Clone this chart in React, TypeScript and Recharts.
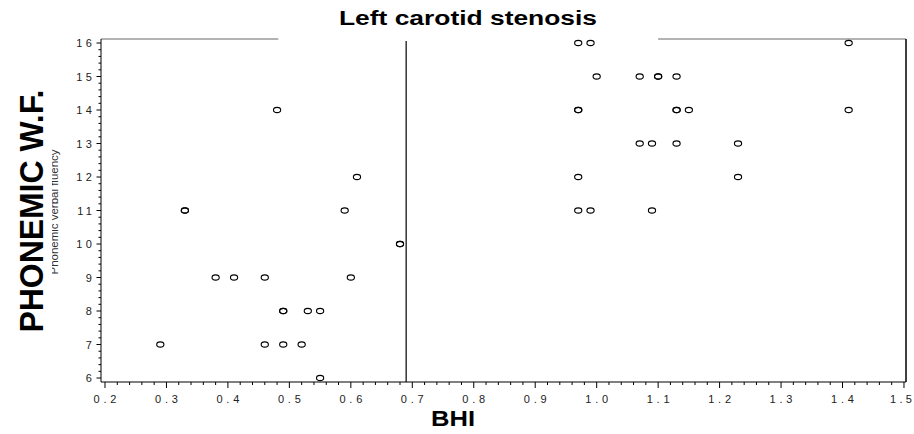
import React from 'react';
import { ScatterChart, Scatter, XAxis, YAxis, ReferenceLine } from 'recharts';

const title = 'Left carotid stenosis';
const xTitle = 'BHI';
const yTitle = 'PHONEMIC W.F.';
const ySubTitle = 'Phonemic verbal fluency';

// major tick values (labels are drawn from these)
const xMajor = [0.2, 0.3, 0.4, 0.5, 0.6, 0.7, 0.8, 0.9, 1.0, 1.1, 1.2, 1.3, 1.4, 1.5];
const yMajor = [6, 7, 8, 9, 10, 11, 12, 13, 14, 15, 16];

// one entry per subject: BHI and phonemic word fluency score
const bhi = [
  0.97, 0.99, 1.41,
  1.0, 1.07, 1.1, 1.1, 1.13,
  0.48, 0.97, 0.97, 1.13, 1.13, 1.15, 1.41,
  1.07, 1.09, 1.13, 1.23,
  0.61, 0.97, 1.23,
  0.33, 0.33, 0.59, 0.97, 0.99, 1.09,
  0.68, 0.68,
  0.38, 0.41, 0.46, 0.6,
  0.49, 0.49, 0.53, 0.55,
  0.29, 0.46, 0.49, 0.52,
  0.55,
];
const phonemic = [
  16, 16, 16,
  15, 15, 15, 15, 15,
  14, 14, 14, 14, 14, 14, 14,
  13, 13, 13, 13,
  12, 12, 12,
  11, 11, 11, 11, 11, 11,
  10, 10,
  9, 9, 9, 9,
  8, 8, 8, 8,
  7, 7, 7, 7,
  6,
];

const cutoff = 0.69;
const topLineGap = [0.482, 1.1];

const X_DOMAIN: [number, number] = [0.1935, 1.5033];
const Y_DOMAIN: [number, number] = [5.881, 16.12];

const points = bhi.map((v, i) => ({ bhi: v, pwf: phonemic[i] }));

// 4 minor ticks between every pair of majors
const withMinor = (majors: number[], n: number) =>
  majors.flatMap((m, i) =>
    i === majors.length - 1
      ? [m]
      : Array.from({ length: n }, (_, k) => +(m + ((majors[i + 1] - m) * k) / n).toFixed(4))
  );

const xTicks = withMinor(xMajor, 5);
const yTicks = withMinor(yMajor, 5);

const isMajor = (v: number, majors: number[]) => majors.some((m) => Math.abs(m - v) < 1e-6);

const FONT = '"Liberation Sans", Arial, sans-serif';

const XTick = (props: any) => {
  const { x, y, payload } = props;
  const v = payload.value;
  if (!isMajor(v, xMajor)) {
    return <line x1={x} x2={x} y1={y} y2={y + 3} stroke="#000" />;
  }
  const last = Math.abs(v - xMajor[xMajor.length - 1]) < 1e-6;
  return (
    <g>
      <line x1={x} x2={x} y1={y} y2={y + 6} stroke="#000" />
      <text
        x={last ? 912 + 3.4 : x + 1.9}
        y={y + 21}
        textAnchor={last ? 'end' : 'middle'}
        fontSize={11}
        fontFamily={FONT}
        letterSpacing={last ? 3.4 : 3.8}
        fill="#222"
      >
        {v.toFixed(1)}
      </text>
    </g>
  );
};

const YTick = (props: any) => {
  const { x, y, payload } = props;
  const v = payload.value;
  if (!isMajor(v, yMajor)) {
    return <line x1={x - 2.5} x2={x} y1={y} y2={y} stroke="#000" />;
  }
  return (
    <g>
      <line x1={x - 4.5} x2={x} y1={y} y2={y} stroke="#000" />
      <text
        x={x - 9 + 3.4}
        y={y + 4}
        textAnchor="end"
        fontSize={11}
        fontFamily={FONT}
        letterSpacing={3.4}
        fill="#222"
      >
        {String(v)}
      </text>
    </g>
  );
};

const OpenDot = (props: any) => (
  <ellipse cx={props.cx} cy={props.cy} rx={3.6} ry={2.6} fill="none" stroke="#000" strokeWidth={1.1} />
);

export default function App() {
  return (
    <div style={{ position: 'absolute', left: 0, top: 0, width: 914, height: 434, background: '#fff' }}>
      <ScatterChart width={914} height={434} margin={{ top: 39, right: 8, bottom: 0, left: 41 }}>
        <XAxis
          dataKey="bhi"
          type="number"
          domain={X_DOMAIN}
          ticks={xTicks}
          interval={0}
          allowDataOverflow
          tickLine={false}
          tickSize={0}
          tickMargin={0}
          axisLine={{ stroke: '#000' }}
          tick={<XTick />}
          height={52}
        />
        <YAxis
          dataKey="pwf"
          type="number"
          domain={Y_DOMAIN}
          ticks={yTicks}
          interval={0}
          allowDataOverflow
          tickLine={false}
          tickSize={0}
          tickMargin={0}
          axisLine={{ stroke: '#000' }}
          tick={<YTick />}
          width={60}
        />
        <ReferenceLine
          segment={[{ x: X_DOMAIN[0], y: Y_DOMAIN[1] }, { x: topLineGap[0], y: Y_DOMAIN[1] }]}
          stroke="#666"
          ifOverflow="visible"
        />
        <ReferenceLine
          segment={[{ x: topLineGap[1], y: Y_DOMAIN[1] }, { x: X_DOMAIN[1], y: Y_DOMAIN[1] }]}
          stroke="#666"
          ifOverflow="visible"
        />
        <ReferenceLine x={X_DOMAIN[1]} stroke="#000" strokeWidth={1.5} ifOverflow="visible" />
        <ReferenceLine
          segment={[{ x: cutoff, y: 16.06 }, { x: cutoff, y: Y_DOMAIN[0] }]}
          stroke="#000"
          strokeWidth={1.2}
          ifOverflow="visible"
        />
        <Scatter data={points} shape={<OpenDot />} isAnimationActive={false} />
      </ScatterChart>
      <svg
        width={914}
        height={434}
        style={{ position: 'absolute', left: 0, top: 0, pointerEvents: 'none' }}
        fontFamily={FONT}
      >
        <defs>
          <clipPath id="subClip">
            <rect x={52} y={0} width={20} height={434} />
          </clipPath>
        </defs>
        <text x={468} y={25} textAnchor="middle" fontSize={20} fontWeight="bold" textLength={258} lengthAdjust="spacingAndGlyphs">
          {title}
        </text>
        <text x={453} y={426} textAnchor="middle" fontSize={22} fontWeight="bold" textLength={44} lengthAdjust="spacingAndGlyphs">
          {xTitle}
        </text>
        <text
          transform="translate(43,211) rotate(-90)"
          textAnchor="middle"
          fontSize={34}
          fontWeight="bold"
          textLength={243}
          lengthAdjust="spacingAndGlyphs"
        >
          {yTitle}
        </text>
        <g clipPath="url(#subClip)">
          <text
            transform="translate(58,212) rotate(-90)"
            textAnchor="middle"
            fontSize={10.5}
            fill="#333"
            textLength={125}
            lengthAdjust="spacingAndGlyphs"
          >
            {ySubTitle}
          </text>
        </g>
      </svg>
    </div>
  );
}
